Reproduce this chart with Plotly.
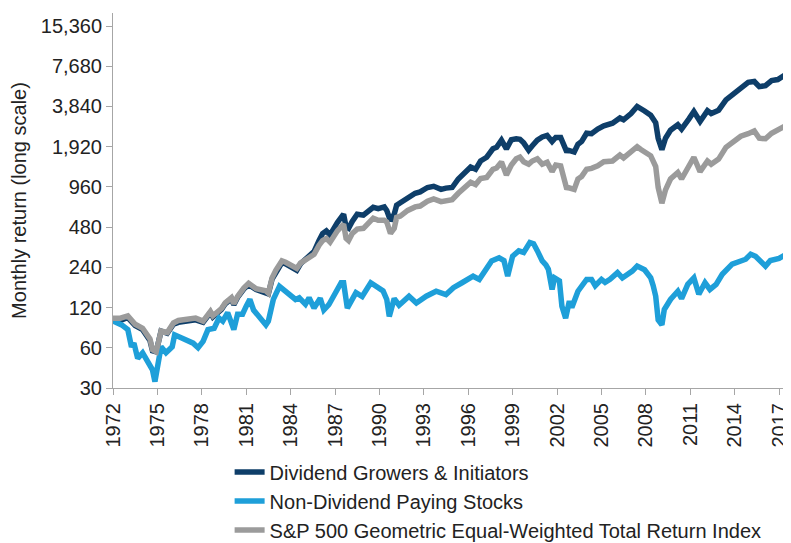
import plotly.graph_objects as go

# Values (index, start ~100)
growers_dates = ["1972-01", "1972-07", "1973-01", "1973-07", "1974-01", "1974-07", "1974-09", "1974-12",
                 "1975-04", "1975-09", "1976-02", "1976-06", "1977-01", "1977-08", "1978-02", "1978-08",
                 "1978-10", "1979-05", "1979-08", "1980-01", "1980-03", "1980-06", "1980-11", "1981-03",
                 "1981-09", "1982-05", "1982-07", "1982-10", "1983-01", "1983-06", "1983-09", "1984-01",
                 "1984-06", "1984-09", "1985-01", "1985-05", "1985-08", "1985-12", "1986-03", "1986-06",
                 "1986-09", "1987-03", "1987-08", "1987-10", "1987-12", "1988-03", "1988-07", "1988-12",
                 "1989-05", "1989-08", "1989-12", "1990-05", "1990-07", "1990-10", "1991-01", "1991-03",
                 "1991-06", "1991-12", "1992-06", "1992-10", "1993-04", "1993-09", "1994-03", "1994-07",
                 "1994-12", "1995-05", "1995-09", "1996-03", "1996-07", "1996-11", "1997-04", "1997-09",
                 "1997-12", "1998-04", "1998-08", "1998-12", "1999-04", "1999-07", "1999-10", "2000-02",
                 "2000-05", "2000-09", "2001-01", "2001-05", "2001-09", "2001-12", "2002-04", "2002-07",
                 "2002-09", "2002-10", "2003-03", "2003-06", "2003-09", "2004-01", "2004-05", "2004-10",
                 "2005-03", "2005-10", "2006-04", "2006-07", "2007-01", "2007-06", "2007-09", "2007-12",
                 "2008-05", "2008-09", "2008-11", "2009-02", "2009-05", "2009-09", "2010-03", "2010-06",
                 "2010-12", "2011-04", "2011-09", "2011-12", "2012-03", "2012-06", "2012-12", "2013-06",
                 "2013-12", "2014-06", "2014-12", "2015-05", "2015-09", "2016-02", "2016-07", "2016-12",
                 "2017-06", "2017-10"]
growers = [97, 96, 101, 88, 82, 68, 57, 56,
           80, 77, 90, 93, 95, 97, 93, 110,
           102, 116, 128, 140, 126, 143, 165, 178,
           164, 157, 152, 196, 222, 260, 255, 243,
           228, 255, 275, 300, 315, 380, 430, 450,
           420, 520, 600, 480, 470, 530, 600, 590,
           640, 675, 660, 680, 640, 535, 600, 700,
           730, 800, 860, 880, 950, 970, 920, 940,
           950, 1100, 1200, 1350, 1300, 1500, 1600, 1850,
           1900, 2146, 1850, 2165, 2200, 2180, 2050, 1807,
           1950, 2150, 2270, 2330, 2100, 2250, 2250, 1900,
           1750, 1807, 1750, 2000, 2100, 2420, 2400, 2600,
           2750, 2880, 3150, 3050, 3400, 3840, 3650, 3550,
           3300, 2900, 2220, 1820, 2220, 2550, 2800, 2600,
           3100, 3520, 2960, 3250, 3570, 3400, 3600, 4300,
           4800, 5300, 5820, 5900, 5400, 5500, 6000, 6100,
           6600, 7250]

nondiv_dates = ["1972-01", "1972-05", "1972-08", "1973-01", "1973-04", "1973-06", "1973-09", "1974-01",
                "1974-05", "1974-09", "1974-11", "1975-02", "1975-04", "1975-08", "1976-01", "1976-03",
                "1976-09", "1977-02", "1977-06", "1977-10", "1978-02", "1978-06", "1978-11", "1979-03",
                "1979-06", "1979-10", "1980-03", "1980-06", "1980-10", "1981-01", "1981-04", "1981-07",
                "1982-01", "1982-05", "1982-07", "1982-11", "1983-04", "1983-07", "1984-01", "1984-05",
                "1984-08", "1985-01", "1985-04", "1985-08", "1986-01", "1986-04", "1986-08", "1986-11",
                "1987-02", "1987-06", "1987-08", "1987-11", "1988-06", "1988-11", "1989-06", "1989-11",
                "1990-04", "1990-07", "1990-09", "1991-01", "1991-05", "1992-01", "1992-07", "1993-03",
                "1993-11", "1994-07", "1995-01", "1995-08", "1996-05", "1996-10", "1997-03", "1997-08",
                "1998-02", "1998-06", "1998-09", "1999-01", "1999-06", "1999-10", "2000-03", "2000-06",
                "2000-09", "2001-01", "2001-04", "2001-06", "2001-09", "2001-11", "2002-03", "2002-05",
                "2002-08", "2002-11", "2003-01", "2003-06", "2004-01", "2004-05", "2004-08", "2005-01",
                "2005-04", "2005-08", "2006-02", "2006-06", "2007-02", "2007-06", "2007-12", "2008-05",
                "2008-07", "2008-09", "2008-11", "2009-02", "2009-04", "2009-09", "2010-03", "2010-06",
                "2010-11", "2011-04", "2011-08", "2012-01", "2012-05", "2012-10", "2013-03", "2013-11",
                "2014-10", "2015-02", "2015-06", "2016-02", "2016-06", "2017-01", "2017-07", "2017-10"]
nondiv = [95, 92, 89, 82, 61, 65, 50, 55,
          47, 41, 33.5, 49, 61, 55, 61, 75,
          71, 67, 65, 60, 67, 82, 84, 100,
          95, 110, 82, 107, 107, 123, 138, 115,
          100, 89, 95, 138, 173, 165, 146, 138,
          142, 127, 142, 119, 141, 115, 126, 141,
          155, 184, 184, 119, 155, 145, 184, 170,
          160, 138, 103, 140, 125, 146, 130, 146,
          159, 150, 169, 184, 206, 195, 225, 268,
          283, 270, 206, 291, 319, 310, 368, 360,
          320, 268, 250, 232, 164, 200, 190, 123,
          100, 134, 120, 159, 195, 195, 175, 195,
          185, 195, 219, 200, 225, 245, 230, 200,
          175, 146, 97, 89, 116, 138, 159, 140,
          179, 200, 151, 184, 164, 179, 213, 254,
          276, 301, 290, 245, 270, 280, 301, 301]

sp_dates = growers_dates
sp_ew = [100, 100, 104, 90, 84, 70, 58, 56,
         80, 78, 92, 96, 98, 100, 95, 112,
         104, 118, 130, 142, 128, 145, 168, 182,
         166, 160, 154, 200, 228, 268, 262, 250,
         236, 258, 272, 292, 300, 350, 380, 395,
         370, 450, 505, 395, 380, 430, 464, 470,
         530, 560, 540, 540, 525, 430, 470, 567,
         580, 640, 680, 690, 750, 780, 745, 760,
         770, 860, 930, 1040, 1000, 1110, 1130, 1300,
         1330, 1476, 1180, 1400, 1560, 1606, 1480, 1420,
         1500, 1560, 1420, 1470, 1250, 1400, 1380, 1100,
         920, 950, 920, 1100, 1150, 1300, 1320, 1380,
         1480, 1500, 1660, 1580, 1750, 1920, 1830, 1750,
         1640, 1363, 950, 725, 912, 1100, 1230, 1100,
         1380, 1600, 1250, 1350, 1500, 1420, 1550, 1900,
         2100, 2300, 2400, 2520, 2220, 2200, 2420, 2550,
         2700, 2880]

y_ticks = [30, 60, 120, 240, 480, 960, 1920, 3840, 7680, 15360]
x_tick_years = list(range(1972, 2018, 3))

series_names = ["Dividend Growers & Initiators", "Non-Dividend Paying Stocks",
                "S&P 500 Geometric Equal-Weighted Total Return Index"]
colors = ["#0e3e69", "#1e9fd9", "#9b9b9b"]

fig = go.Figure()
for name, xs, ys, c in zip(series_names, [growers_dates, nondiv_dates, sp_dates],
                           [growers, nondiv, sp_ew], colors):
    fig.add_trace(go.Scatter(x=xs, y=ys, name=name, mode="lines",
                             line=dict(color=c, width=5.5)))

# page body adds an 8px offset, so the figure is 783x535
axis_col = "#a6a6a6"
fig.update_layout(
    width=783, height=535,
    margin=dict(l=105, r=0, t=5, b=155, autoexpand=False),
    paper_bgcolor="white", plot_bgcolor="white",
    font=dict(family="Liberation Sans, Arial, sans-serif", size=20, color="#222"),
    showlegend=True,
    legend=dict(orientation="v", x=0.172, xanchor="left", y=-0.172, yanchor="top",
                font=dict(size=20), bgcolor="rgba(0,0,0,0)", traceorder="normal",
                tracegroupgap=0),
)
fig.update_xaxes(
    type="date", range=["1972-01-01", "2017-10-23"], automargin=False,
    tickvals=[f"{y}-01-01" for y in x_tick_years], ticktext=[str(y) for y in x_tick_years],
    tickangle=-90, ticks="outside", ticklen=6, tickcolor=axis_col,
    showline=True, linecolor=axis_col, linewidth=1, showgrid=False, zeroline=False,
)
fig.update_yaxes(
    type="log", range=[1.4771, 4.2837], automargin=False,
    tickvals=y_ticks, ticktext=[f"{v:,}" for v in y_ticks],
    ticks="outside", ticklen=6, tickcolor=axis_col,
    showline=True, linecolor=axis_col, linewidth=1, showgrid=False, zeroline=False,
    title=dict(text="Monthly return (long scale)", font=dict(size=20), standoff=10),
)

fig.write_html("out.html")
